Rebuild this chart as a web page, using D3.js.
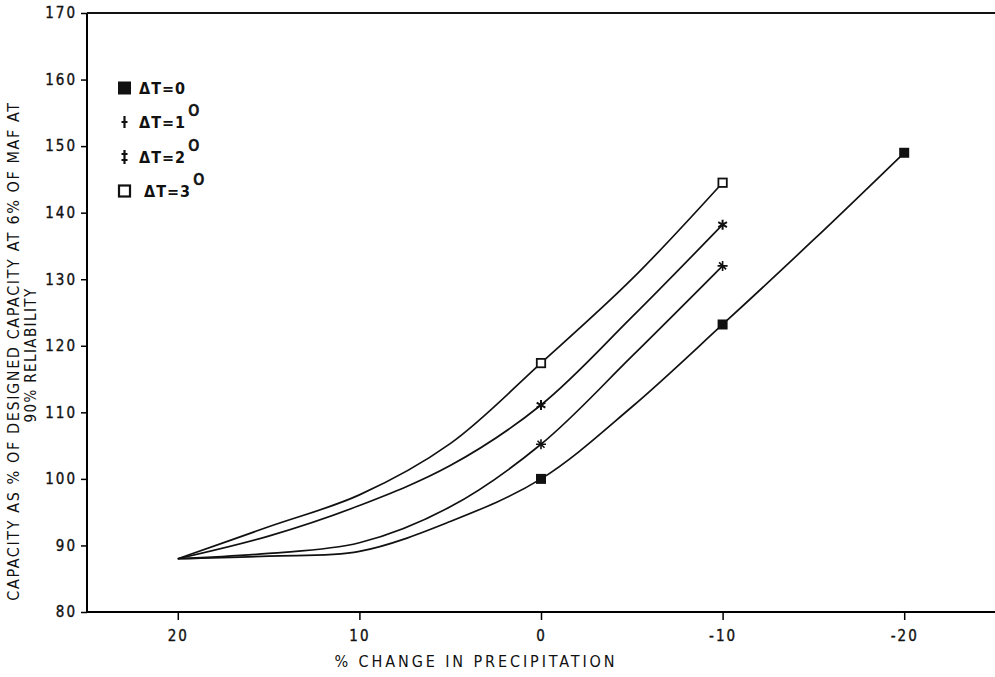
<!DOCTYPE html>
<html>
<head>
<meta charset="utf-8">
<script src="https://cdn.jsdelivr.net/npm/d3@7"></script>
<style>
  html, body { margin: 0; padding: 0; background: #fff; }
  svg { display: block; }
  text { fill: #111; }
</style>
</head>
<body>
<svg id="chart" width="995" height="677"></svg>
<script>
// ---- data ----
const precipChange = [20, 15, 10, 5, 0, -5, -10];
const precipChangeT0 = [20, 15, 10, 5, 0, -5, -10, -15, -20];
const capT0 = [88, 88.4, 89.1, 93.6, 100, 110.8, 123.2, 135.9, 149];
const capT1 = [88, 88.8, 90.4, 95.8, 105.2, 118.4, 132.0];
const capT2 = [88, 91.4, 96.0, 102.0, 111.1, 124.3, 138.2];
const capT3 = [88, 92.8, 97.6, 105.3, 117.4, 130.0, 144.5];
const markedX = [0, -10, -20];           // points that carry a marker
const legendLabels = ["ΔT=0", "ΔT=1", "ΔT=2", "ΔT=3"];
const legendDegree = [false, true, true, true];
const xTicks = [20, 10, 0, -10, -20];
const yTicks = [80, 90, 100, 110, 120, 130, 140, 150, 160, 170];
const xTitle = "% CHANGE IN PRECIPITATION";
const yTitle1 = "CAPACITY AS % OF DESIGNED CAPACITY AT 6% OF MAF AT";
const yTitle2 = "90% RELIABILITY";

const series = [
  { name: legendLabels[0], xs: precipChangeT0, ys: capT0, marker: "filledSquare" },
  { name: legendLabels[1], xs: precipChange, ys: capT1, marker: "plus" },
  { name: legendLabels[2], xs: precipChange, ys: capT2, marker: "asterisk" },
  { name: legendLabels[3], xs: precipChange, ys: capT3, marker: "openSquare" }
];

// ---- layout ----
const svg = d3.select("#chart");
const pLeft = 87, pRight = 995, pTop = 13, pBottom = 612;
const x = d3.scaleLinear().domain([25, -25]).range([pLeft, pRight]);
const y = d3.scaleLinear().domain([80, 170]).range([pBottom, pTop]);

const fontFam = "'DejaVu Sans Condensed', 'DejaVu Sans', sans-serif";

// axes
const yAxis = d3.axisLeft(y).tickValues(yTicks).tickSize(6).tickPadding(4).tickFormat(d3.format("d"));
const gy = svg.append("g").attr("transform", `translate(${pLeft},0)`).call(yAxis);
gy.select(".domain").attr("stroke-width", 2).attr("d", `M0,${pBottom}V${pTop}`);
gy.selectAll(".tick line").attr("stroke-width", 1.5);
gy.selectAll(".tick text").attr("font-family", fontFam).attr("font-size", 15)
  .attr("letter-spacing", "2px").attr("fill", "#111")
  .attr("stroke", "#111").attr("stroke-width", 0.35);

const xAxis = d3.axisBottom(x).tickValues(xTicks).tickSize(8).tickPadding(10).tickFormat(d3.format("d"));
const gx = svg.append("g").attr("transform", `translate(0,${pBottom})`).call(xAxis);
gx.select(".domain").attr("stroke-width", 2).attr("d", `M${pLeft},0H${pRight}`);
gx.selectAll(".tick line").attr("stroke-width", 1.5);
gx.selectAll(".tick text").attr("font-family", fontFam).attr("font-size", 15)
  .attr("letter-spacing", "2px").attr("fill", "#111")
  .attr("stroke", "#111").attr("stroke-width", 0.35)
  .text(d => d < 0 ? "-" + Math.abs(d) : d);

// top frame line
svg.append("line").attr("x1", pLeft).attr("x2", pRight)
  .attr("y1", y(170)).attr("y2", y(170)).attr("stroke", "#111").attr("stroke-width", 2);

// axis titles
svg.append("text").attr("x", 476).attr("y", 667)
  .attr("text-anchor", "middle").attr("font-family", fontFam).attr("font-size", 16)
  .attr("letter-spacing", "2.9px").text(xTitle);

svg.append("text").attr("transform", `translate(19,351) rotate(-90)`)
  .attr("text-anchor", "middle").attr("font-family", fontFam).attr("font-size", 16)
  .attr("letter-spacing", "1.6px").text(yTitle1);
svg.append("text").attr("transform", `translate(36,355) rotate(-90)`)
  .attr("text-anchor", "middle").attr("font-family", fontFam).attr("font-size", 15)
  .attr("letter-spacing", "1.4px").text(yTitle2);

// curves
const line = d3.line().curve(d3.curveCatmullRom.alpha(0.5)).x(d => x(d[0])).y(d => y(d[1]));
series.forEach(s => {
  const pts = s.xs.map((v, i) => [v, s.ys[i]]);
  svg.append("path").datum(pts).attr("d", line)
    .attr("fill", "none").attr("stroke", "#111").attr("stroke-width", 1.7);
});

// markers
function drawMarker(g, type, cx, cy, size) {
  const h = size / 2;
  if (type === "filledSquare") {
    g.append("rect").attr("x", cx - h).attr("y", cy - h).attr("width", size).attr("height", size)
      .attr("fill", "#111");
  } else if (type === "openSquare") {
    g.append("rect").attr("x", cx - h + 0.8).attr("y", cy - h + 0.8)
      .attr("width", size - 1.6).attr("height", size - 1.6)
      .attr("fill", "#fff").attr("stroke", "#111").attr("stroke-width", 1.8);
  } else if (type === "plus") {
    g.append("path").attr("d", `M${cx - h},${cy}H${cx + h}M${cx},${cy - h}V${cy + h}M${cx - h * 0.7},${cy - h * 0.7}L${cx + h * 0.7},${cy + h * 0.7}`)
      .attr("stroke", "#111").attr("stroke-width", 1.6).attr("fill", "none");
  } else if (type === "asterisk") {
    const a = h * 0.87, b = h * 0.5;
    g.append("path").attr("d", `M${cx},${cy - h}V${cy + h}M${cx - a},${cy - b}L${cx + a},${cy + b}M${cx - a},${cy + b}L${cx + a},${cy - b}`)
      .attr("stroke", "#111").attr("stroke-width", 2).attr("fill", "none");
  }
}
const gm = svg.append("g");
series.forEach(s => {
  s.xs.forEach((v, i) => {
    if (markedX.includes(v)) drawMarker(gm, s.marker, x(v), y(s.ys[i]), 10);
  });
});

// legend
const legRows = [88, 122, 157, 191];
const gl = svg.append("g");
function legendMarker(type, cx, cy) {
  if (type === "filledSquare") {
    gl.append("rect").attr("x", cx - 6.5).attr("y", cy - 6.5).attr("width", 13).attr("height", 13).attr("fill", "#111");
  } else if (type === "openSquare") {
    gl.append("rect").attr("x", cx - 5.5).attr("y", cy - 5.5).attr("width", 11).attr("height", 11)
      .attr("fill", "none").attr("stroke", "#111").attr("stroke-width", 2.2);
  } else if (type === "plus") {
    gl.append("path").attr("d", `M${cx},${cy - 6}V${cy + 6}M${cx - 3},${cy}H${cx + 3}`)
      .attr("stroke", "#111").attr("stroke-width", 2.2);
  } else if (type === "asterisk") {
    gl.append("path").attr("d", `M${cx},${cy - 7}V${cy + 7}M${cx - 3},${cy - 3}H${cx + 3}M${cx - 3},${cy + 3}H${cx + 3}`)
      .attr("stroke", "#111").attr("stroke-width", 2.2);
  }
}
series.forEach((s, i) => {
  const cy = legRows[i];
  legendMarker(s.marker, 124.5, cy);
  const t = gl.append("text").attr("x", i === 3 ? 144 : 139).attr("y", cy + 6)
    .attr("font-family", fontFam).attr("font-weight", "bold").attr("font-size", 16)
    .attr("letter-spacing", "1px").text(legendLabels[i]);
  if (legendDegree[i]) {
    t.append("tspan").attr("dx", 2).attr("dy", -12).attr("font-size", 21)
      .attr("font-weight", "normal").attr("stroke", "#111").attr("stroke-width", 0.6).text("o");
  }
});
</script>
</body>
</html>
